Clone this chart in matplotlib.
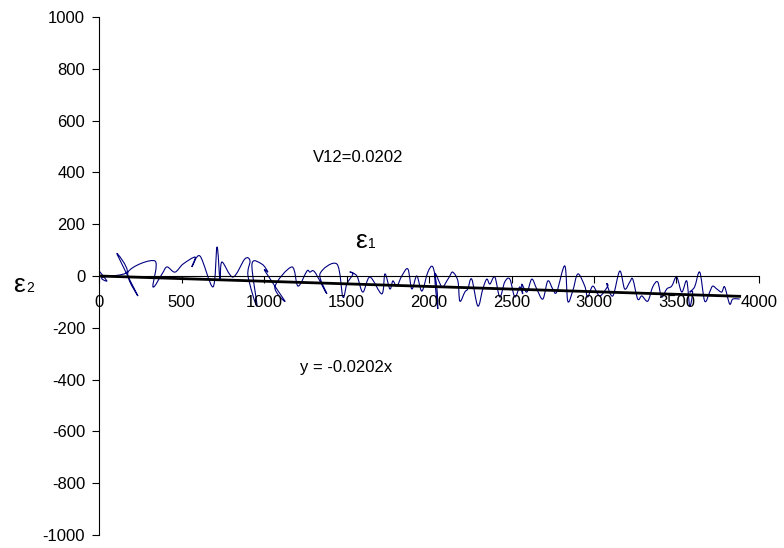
import numpy as np
import matplotlib.pyplot as plt
from matplotlib.path import Path
from matplotlib.patches import PathPatch

plt.rcParams['font.family'] = ['Liberation Sans', 'DejaVu Sans']
plt.rcParams['axes.unicode_minus'] = False

# strain readings (eps1 along x, eps2 along y)
eps1 = [0, 48, 20, 170, 109, 236, 176, 339, 327, 382, 412, 460, 509,
        582, 563, 612, 691, 715, 733, 745, 812, 884, 915, 903, 957, 927, 987, 1024,
        1006, 1127, 1066, 1169, 1206, 1260, 1278, 1308, 1381, 1339, 1442, 1478, 1502, 1539,
        1520, 1563, 1599, 1642, 1714, 1733, 1763, 1781, 1805, 1835, 1872, 1896, 1926, 1957,
        1993, 2023, 2047, 2053,
        2035, 2078, 2108, 2126, 2144, 2175, 2187, 2217, 2235, 2259, 2296, 2326, 2350,
        2369, 2399, 2429, 2459, 2490, 2520, 2550, 2568,
        2562, 2593, 2623, 2653, 2690, 2720, 2750, 2774, 2823, 2841, 2871, 2902, 2944,
        2962, 2993, 3035, 3083,
        3077, 3114, 3156, 3186, 3217, 3235, 3265, 3290, 3326, 3356, 3386, 3410, 3441,
        3471, 3501, 3532, 3562, 3580, 3598,
        3580, 3610, 3641, 3671, 3701, 3719, 3744, 3774, 3792, 3822, 3841, 3883]
eps2 = [20, -19, -5, 15, 85, -77, 15, 58, -42, 8, 35, 15, 46,
        73, 35, 77, -42, 112, -12, 54, -4, 66, 58, 0, -116, 46, 46, 15,
        19, -97, -42, 35, -39, 19, 15, 15, -69, 8, 46, -81, -31, 8,
        15, 0, -62, -4, -69, 8, -50, -19, -39, 0, 27, -50, 0, -58,
        15, 35, -42, -127,
        8, -42, -19, 0, 15, -19, -97, -62, -50, -12, -116, -50, -12,
        -31, -4, -81, -23, -12, -81, -42, -69,
        -31, -62, -12, -50, -89, -19, -50, -62, 39, -97, -58, 8, -39,
        -81, -39, -77, -39,
        -31, -77, 19, -50, -23, -12, -89, -77, -97, -42, -23, -81, -50,
        -39, -4, -62, -19, -116, -62,
        -62, -42, 15, -97, -62, -39, -50, -62, -42, -108, -89, -89]

slope = -0.0202
v12 = 0.0202


def smooth_path(xs, ys):
    # smoothed line: cubic Bezier segments through every reading
    p = np.column_stack([xs, ys]).astype(float)
    ext = np.vstack([p[0], p, p[-1]])
    verts = [p[0]]
    codes = [Path.MOVETO]
    for i in range(1, len(ext) - 2):
        p0, p1, p2, p3 = ext[i - 1], ext[i], ext[i + 1], ext[i + 2]
        verts += [p1 + (p2 - p0) / 6, p2 - (p3 - p1) / 6, p2]
        codes += [Path.CURVE4] * 3
    return Path(verts, codes)


fig = plt.figure(figsize=(7.84, 5.48), dpi=100)
ax = fig.add_axes([0.1263, 0.0237, 0.8418, 0.9453])

ax.add_patch(PathPatch(smooth_path(eps1, eps2), facecolor='none',
                       edgecolor='#000080', lw=0.8))
xt = np.array([0, max(eps1)])
ax.plot(xt, slope * xt, color='black', lw=2)

ax.set_xlim(0, 4000)
ax.set_ylim(-1000, 1000)
ax.set_xticks(range(0, 4001, 500))
ax.set_yticks(range(-1000, 1001, 200))

ax.spines['top'].set_visible(False)
ax.spines['right'].set_visible(False)
ax.spines['bottom'].set_position(('data', 0))
ax.spines['left'].set_linewidth(0.8)
ax.spines['bottom'].set_linewidth(0.8)
ax.tick_params(axis='both', direction='out', length=5, width=0.8, labelsize=12)
ax.tick_params(axis='y', pad=5)
ax.tick_params(axis='x', pad=9)

# annotations
fig.text(0.457, 0.713, 'V12=%.4f' % v12, fontsize=12, ha='center', va='center')
fig.text(0.441, 0.330, 'y = %.4fx' % slope, fontsize=12, ha='center', va='center')
fig.text(0.461, 0.560, 'ε', fontsize=19, ha='center', va='center')
fig.text(0.470, 0.554, '1', fontsize=10, ha='left', va='center')
fig.text(0.024, 0.480, 'ε', fontsize=19, ha='center', va='center')
fig.text(0.033, 0.474, '2', fontsize=10, ha='left', va='center')

fig.savefig('out.png', dpi=100)
